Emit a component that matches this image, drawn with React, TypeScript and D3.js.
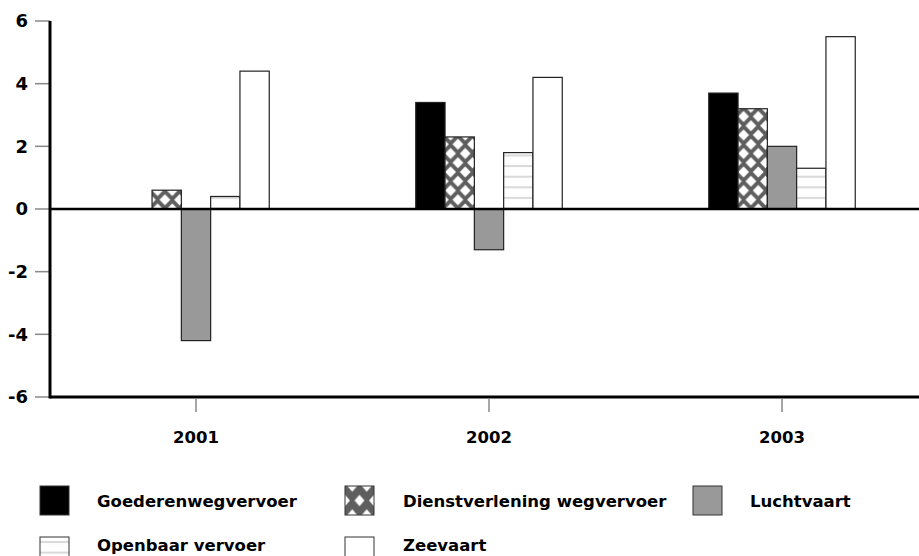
import React from "react";
import * as d3 from "d3";

const years = ["2001", "2002", "2003"];
const series = ["Goederenwegvervoer", "Dienstverlening wegvervoer", "Luchtvaart", "Openbaar vervoer", "Zeevaart"];
const goederen = [0.0, 3.4, 3.7];
const dienst = [0.6, 2.3, 3.2];
const lucht = [-4.2, -1.3, 2.0];
const openbaar = [0.4, 1.8, 1.3];
const zeevaart = [4.4, 4.2, 5.5];
const yTicks = [-6, -4, -2, 0, 2, 4, 6];

const values = [goederen, dienst, lucht, openbaar, zeevaart];
const fills = ["#000000", "url(#hatch)", "#999999", "url(#stripes)", "#ffffff"];
const legendFills = ["#000000", "url(#hatchL)", "#999999", "url(#stripesL)", "#ffffff"];

const W = 919, H = 556;
const left = 50, top = 21, bottom = 397;

export default function App() {
  const x = d3.scaleBand().domain(years).range([49.5, 928.5]).padding(0);
  const step = x.step();
  const xi = d3.scaleBand().domain(series).range([step / 4, (3 * step) / 4]).padding(0);
  const y = d3.scaleLinear().domain([-6, 6]).range([bottom, top]);
  const bw = xi.bandwidth();
  const y0 = y(0);
  const hatchX = (x("2001") as number) + (xi(series[1]) as number);
  const stripesX = (x("2001") as number) + (xi(series[3]) as number);
  const hw = bw / 2, hh = 18.5;

  const legendPos = [
    { sx: 40, sy: 486, tx: 97, ty: 507 },
    { sx: 345, sy: 486, tx: 403, ty: 507 },
    { sx: 693, sy: 486, tx: 750, ty: 507 },
    { sx: 40, sy: 537, tx: 97, ty: 551 },
    { sx: 345, sy: 537, tx: 403, ty: 551 },
  ];

  const diamond = (cx: number, cy: number, rx: number, ry: number) =>
    `M${cx},${cy - ry}L${cx + rx},${cy}L${cx},${cy + ry}L${cx - rx},${cy}Z`;

  const hatchContent = (w: number, h: number, fx: number, fy: number) => {
    const rx = w * fx, ry = h * fy;
    return (
      <>
        <rect width={w} height={h} fill="#5e5e5e" />
        <path
          d={[
            diamond(w / 2, h / 2, rx, ry),
            diamond(0, 0, rx, ry),
            diamond(w, 0, rx, ry),
            diamond(0, h, rx, ry),
            diamond(w, h, rx, ry),
          ].join("")}
          fill="#ffffff"
        />
      </>
    );
  };

  return (
    <svg width={W} height={H} style={{ display: "block", position: "absolute", left: 0, top: 0 }}>
      <defs>
        <pattern id="hatch" patternUnits="userSpaceOnUse" x={hatchX} y={y0} width={hw} height={hh}>
          {hatchContent(hw, hh, 0.37, 0.3)}
        </pattern>
        <pattern id="hatchL" patternUnits="userSpaceOnUse" x={345} y={486 + 14.5} width={14.5} height={14.5 * 2}>
          {hatchContent(14.5, 29, 0.34, 0.2)}
        </pattern>
        <pattern id="stripes" patternUnits="userSpaceOnUse" x={stripesX} y={y0 - 1.5} width={bw} height={10.6}>
          <rect width={bw} height={10.6} fill="#ffffff" />
          <rect y={0} width={bw} height={2} fill="#d9d9d9" />
        </pattern>
        <pattern id="stripesL" patternUnits="userSpaceOnUse" x={40} y={541} width={29} height={10.6}>
          <rect width={29} height={10.6} fill="#ffffff" />
          <rect y={0} width={29} height={2} fill="#d9d9d9" />
        </pattern>
      </defs>

      {/* y ticks */}
      {yTicks.map((t) => (
        <g key={t}>
          <line x1={35} x2={left} y1={y(t)} y2={y(t)} stroke="#888" strokeWidth={1.5} />
          <text
            x={28}
            y={y(t)}
            dy="0.36em"
            textAnchor="end"
            fontFamily="'DejaVu Sans', sans-serif"
            fontWeight={700}
            fontSize={18}
            fill="#000"
          >
            {t}
          </text>
        </g>
      ))}

      {/* bars */}
      {years.map((yr, j) => (
        <g key={yr} transform={`translate(${x(yr)},0)`}>
          {series.map((s, i) => {
            const v = values[i][j];
            const yy = Math.min(y(v), y0);
            const h = Math.abs(y(v) - y0);
            return (
              <rect
                key={s}
                x={xi(s)}
                y={yy}
                width={bw}
                height={h}
                fill={fills[i]}
                stroke={v === 0 ? "#888" : "#222"}
                strokeWidth={1.2}
              />
            );
          })}
        </g>
      ))}

      {/* zero line */}
      <line x1={left} x2={W} y1={y0} y2={y0} stroke="#000" strokeWidth={2.5} />
      {/* bottom axis */}
      <line x1={left} x2={W} y1={bottom} y2={bottom} stroke="#000" strokeWidth={3} />
      {/* left axis */}
      <line x1={left} x2={left} y1={top} y2={bottom + 1.5} stroke="#000" strokeWidth={3} />

      {/* x ticks */}
      {years.map((yr) => {
        const cx = (x(yr) as number) + step / 2;
        return (
          <g key={yr}>
            <line x1={cx} x2={cx} y1={399} y2={412} stroke="#888" strokeWidth={1.5} />
            <text
              x={cx}
              y={443}
              textAnchor="middle"
              fontFamily="'DejaVu Sans', sans-serif"
              fontWeight={700}
              fontSize={16.5}
              fill="#000"
            >
              {yr}
            </text>
          </g>
        );
      })}

      {/* legend */}
      {series.map((s, i) => {
        const p = legendPos[i];
        return (
          <g key={s}>
            <rect x={p.sx} y={p.sy} width={29} height={29} fill={legendFills[i]} stroke="#333" strokeWidth={1} />
            <text
              x={p.tx}
              y={p.ty}
              fontFamily="'DejaVu Sans', sans-serif"
              fontWeight={700}
              fontSize={16.5}
              fill="#000"
            >
              {s}
            </text>
          </g>
        );
      })}
    </svg>
  );
}
